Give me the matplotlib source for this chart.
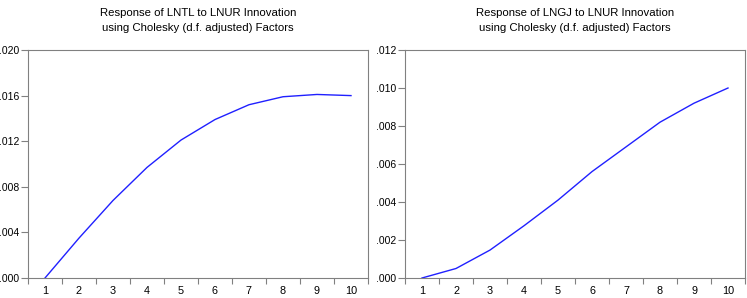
import matplotlib
matplotlib.use("Agg")
import matplotlib.pyplot as plt
from matplotlib.ticker import FuncFormatter
from matplotlib import font_manager
import numpy as np

periods = [1, 2, 3, 4, 5, 6, 7, 8, 9, 10]
lntl = [0.0, 0.0035, 0.0068, 0.0097, 0.0121, 0.0139, 0.0152, 0.0159, 0.0161, 0.0160]
lngj = [0.0, 0.0005, 0.00147, 0.00275, 0.0041, 0.0056, 0.0069, 0.0082, 0.0092, 0.0100]
titles = ["Response of LNTL to LNUR Innovation\nusing Cholesky (d.f. adjusted) Factors",
          "Response of LNGJ to LNUR Innovation\nusing Cholesky (d.f. adjusted) Factors"]
yticks_l = [0.000, 0.004, 0.008, 0.012, 0.016, 0.020]
yticks_r = [0.000, 0.002, 0.004, 0.006, 0.008, 0.010, 0.012]

names = set(f.name for f in font_manager.fontManager.ttflist)
if 'Liberation Sans Narrow' in names:
    fam = ['Liberation Sans Narrow', 'DejaVu Sans']
    tsize = 9.5
else:
    fam = ['Liberation Sans', 'DejaVu Sans']
    tsize = 8.2
plt.rcParams['font.family'] = fam

fig = plt.figure(figsize=(7.47, 2.98), dpi=100)
W, H = 747, 298
axes_px = [(28, 50, 368, 278), (405, 50, 745, 278)]
fmt = FuncFormatter(lambda v, p: ("%.3f" % v).lstrip("0") if v >= 0 else "%.3f" % v)

for (x0, y0, x1, y1), data, title, yt in zip(axes_px, [lntl, lngj], titles, [yticks_l, yticks_r]):
    ax = fig.add_axes([x0 / W, 1 - y1 / H, (x1 - x0) / W, (y1 - y0) / H])
    ax.plot(periods, data, color="#2020ff", lw=1.0)
    ax.set_xlim(0.5, 10.5)
    ax.set_ylim(yt[0], yt[-1])
    ax.set_yticks(yt)
    ax.yaxis.set_major_formatter(fmt)
    ax.set_xticks(periods)
    ax.set_xticks(np.arange(0.5, 11, 1.0), minor=True)
    ax.tick_params(axis='x', which='major', length=0, labelsize=7.8, pad=6)
    ax.tick_params(axis='x', which='minor', length=4, color="#808080", width=0.8)
    ax.tick_params(axis='y', which='major', length=5, color="#808080", width=0.8, labelsize=7.5, pad=1.5)
    for s in ax.spines.values():
        s.set_color("#808080")
        s.set_linewidth(0.8)
    ax.set_title(title, fontsize=tsize, pad=14, linespacing=1.6)

fig.savefig("out.png", dpi=100)
